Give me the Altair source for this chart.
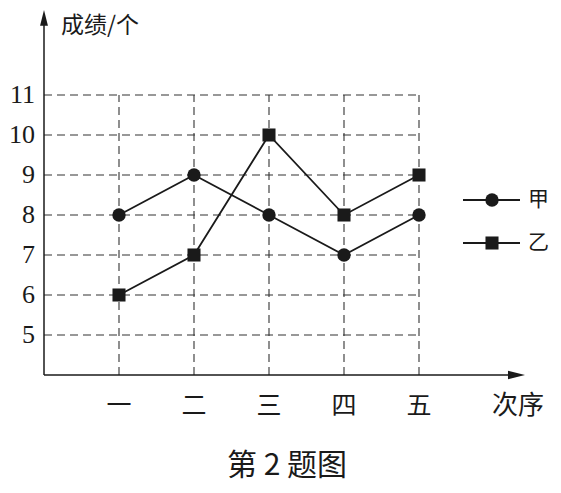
import altair as alt
import pandas as pd

categories = ["一", "二", "三", "四", "五"]
jia = [8, 9, 8, 7, 8]
yi = [6, 7, 10, 8, 9]
y_ticks = [5, 6, 7, 8, 9, 10, 11]
series_names = ["甲", "乙"]
y_title = "成绩/个"
x_title = "次序"
fig_title = "第 2 题图"

positions = list(range(1, len(categories) + 1))

xs = alt.Scale(domain=[0, 6], range=[36, 486], nice=False, zero=False)
ys = alt.Scale(domain=[4, 13], range=[367, 7], nice=False, zero=False)

INK = "#1a1a1a"
GRID = "#333333"
CJK = "Noto Sans CJK SC"
SERIF = "Liberation Serif"

rows = []
for name, vals in zip(series_names, [jia, yi]):
    for p, c, v in zip(positions, categories, vals):
        rows.append({"pos": p, "cat": c, "val": v, "series": name})
lines_df = pd.DataFrame(rows)

hgrid = pd.DataFrame({"v": y_ticks, "x0": 0, "x1": positions[-1]})
vgrid = pd.DataFrame({"pos": positions, "y0": 4, "y1": y_ticks[-1]})
xlab = pd.DataFrame({"pos": positions, "cat": categories})
ylab = pd.DataFrame({"v": y_ticks, "t": [str(t) for t in y_ticks]})

X = lambda f: alt.X(f, scale=xs, axis=None)
Y = lambda f: alt.Y(f, scale=ys, axis=None)

grid_h = alt.Chart(hgrid).mark_rule(strokeDash=[8, 5], color=GRID, strokeWidth=1.1).encode(
    x=X("x0:Q"), x2="x1:Q", y=Y("v:Q"))
grid_v = alt.Chart(vgrid).mark_rule(strokeDash=[8, 5], color=GRID, strokeWidth=1.1).encode(
    x=X("pos:Q"), y=Y("y0:Q"), y2="y1:Q")

base1 = alt.Chart(pd.DataFrame({"a": [0]}))
yaxis = base1.mark_rule(color=INK, strokeWidth=1.5).encode(
    x=alt.X(datum=0, scale=xs, axis=None), y=alt.Y(datum=4, scale=ys, axis=None),
    y2=alt.datum(12.8))
xaxis = base1.mark_rule(color=INK, strokeWidth=1.5).encode(
    x=alt.X(datum=0, scale=xs, axis=None), x2=alt.datum(6.2),
    y=alt.Y(datum=4, scale=ys, axis=None))
yarrow = base1.mark_point(shape="M-0.5,1L0,-1L0.5,1Z", filled=True, opacity=1,
                          color=INK, size=250).encode(
    x=alt.X(datum=0, scale=xs, axis=None), y=alt.Y(datum=12.93, scale=ys, axis=None))
xarrow = base1.mark_point(shape="M-1,-0.5L1,0L-1,0.5Z", filled=True, opacity=1,
                          color=INK, size=290).encode(
    x=alt.X(datum=6.3, scale=xs, axis=None), y=alt.Y(datum=4, scale=ys, axis=None))

ytext = alt.Chart(ylab).mark_text(align="right", baseline="middle", dx=-9, fontSize=26,
                                  font=SERIF, color=INK).encode(
    x=alt.X(datum=0, scale=xs, axis=None), y=Y("v:Q"), text="t:N")
xtext = alt.Chart(xlab).mark_text(align="center", baseline="middle", dy=31, fontSize=25,
                                  font=CJK, color=INK).encode(
    x=X("pos:Q"), y=alt.Y(datum=4, scale=ys, axis=None), text="cat:N")
xtitle = base1.mark_text(align="center", baseline="middle", dy=31, fontSize=26,
                         font=CJK, color=INK).encode(
    x=alt.X(datum=6.32, scale=xs, axis=None), y=alt.Y(datum=4, scale=ys, axis=None),
    text=alt.value(x_title))
ytitle = base1.mark_text(align="left", baseline="middle", fontSize=23,
                         font=CJK, color=INK).encode(
    x=alt.value(53), y=alt.value(18), text=alt.value(y_title))

lines = alt.Chart(lines_df).mark_line(color=INK, strokeWidth=1.8).encode(
    x=X("pos:Q"), y=Y("val:Q"), detail="series:N")
pts_jia = alt.Chart(lines_df[lines_df.series == series_names[0]]).mark_point(
    shape="circle", filled=True, opacity=1, color=INK, size=180).encode(
    x=X("pos:Q"), y=Y("val:Q"))
pts_yi = alt.Chart(lines_df[lines_df.series == series_names[1]]).mark_point(
    shape="square", filled=True, opacity=1, color=INK, size=170).encode(
    x=X("pos:Q"), y=Y("val:Q"))

leg = []
for i, (name, shape) in enumerate(zip(series_names, ["circle", "square"])):
    yy = 192 + 43 * i
    leg.append(base1.mark_rule(color=INK, strokeWidth=1.8).encode(
        x=alt.value(455), x2=alt.value(512), y=alt.value(yy)))
    leg.append(base1.mark_point(shape=shape, filled=True, opacity=1, color=INK,
                                size=180 if shape == "circle" else 170).encode(
        x=alt.value(484), y=alt.value(yy)))
    leg.append(base1.mark_text(align="left", baseline="middle", fontSize=21, font=CJK,
                               color=INK).encode(
        x=alt.value(520), y=alt.value(yy), text=alt.value(name)))

title = base1.mark_text(align="center", baseline="middle", fontSize=30, font=CJK,
                        color=INK).encode(
    x=alt.value(279), y=alt.value(458), text=alt.value(fig_title))

chart = alt.layer(
    grid_h, grid_v, yaxis, xaxis, yarrow, xarrow, ytext, xtext, xtitle, ytitle,
    lines, pts_jia, pts_yi, *leg, title
).properties(
    width=545, height=477, padding=0, background="white",
    autosize=alt.AutoSizeParams(type="none"),
).configure_view(stroke=None)

chart.save("out.html", embed_options={"renderer": "svg", "actions": False})
